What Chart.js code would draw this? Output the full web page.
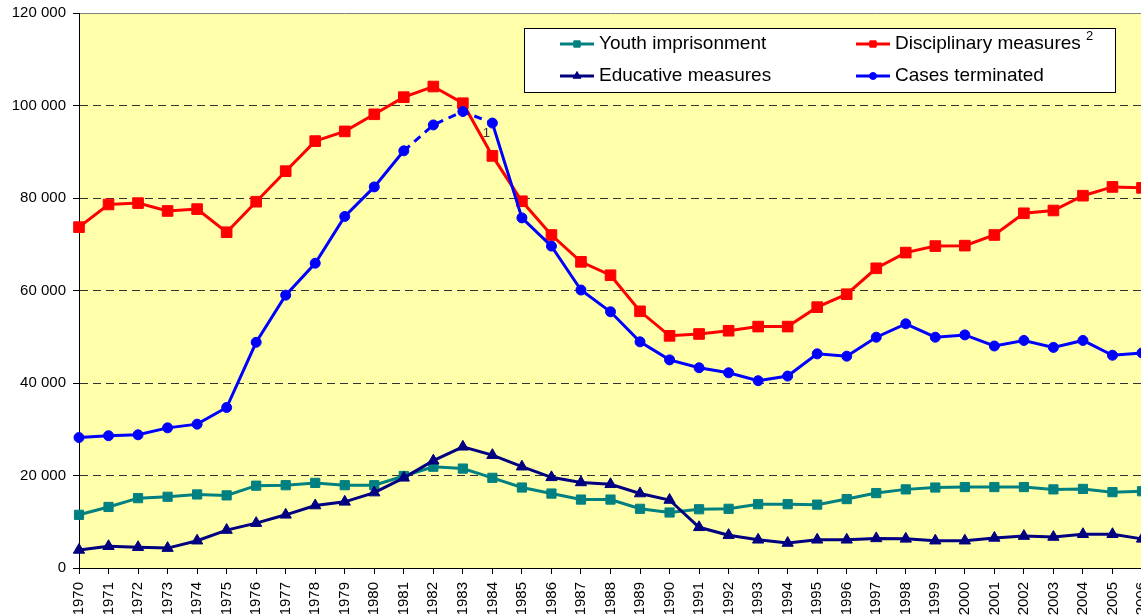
<!DOCTYPE html>
<html>
<head>
<meta charset="utf-8">
<script src="https://cdn.jsdelivr.net/npm/chart.js@4.4.1/dist/chart.umd.min.js"></script>
<style>
	html, body { margin: 0; padding: 0; background: #fff; overflow: hidden; }
	#wrap { width: 1160px; height: 615px; }
</style>
</head>
<body>
<div id="wrap"><canvas id="chart-lines" width="1160" height="615"></canvas></div>
<script>
'use strict';

// Data
var years = ['1970', '1971', '1972', '1973', '1974', '1975', '1976', '1977', '1978', '1979',
	'1980', '1981', '1982', '1983', '1984', '1985', '1986', '1987', '1988', '1989',
	'1990', '1991', '1992', '1993', '1994', '1995', '1996', '1997', '1998', '1999',
	'2000', '2001', '2002', '2003', '2004', '2005', '2006'];

var youthImprisonment = [11500, 13200, 15100, 15400, 15900, 15700, 17800, 17900, 18400, 17900,
	17900, 19900, 21900, 21500, 19500, 17400, 16100, 14800, 14800, 12800,
	12000, 12700, 12800, 13800, 13800, 13700, 14900, 16200, 17000, 17400,
	17500, 17500, 17500, 17000, 17100, 16400, 16600];

var disciplinaryMeasures = [73700, 78600, 78900, 77200, 77600, 72600, 79200, 85800, 92300, 94400,
	98100, 101800, 104100, 100500, 89100, 79300, 72000, 66200, 63300, 55500,
	50200, 50600, 51300, 52200, 52200, 56400, 59200, 64800, 68200, 69600,
	69700, 72000, 76700, 77300, 80500, 82400, 82200];

var educativeMeasures = [3900, 4700, 4500, 4300, 5900, 8200, 9700, 11500, 13500, 14300,
	16300, 19500, 23200, 26200, 24400, 21900, 19600, 18500, 18100, 16100,
	14700, 8800, 7100, 6100, 5400, 6100, 6100, 6400, 6300, 5900,
	5900, 6500, 6900, 6700, 7300, 7300, 6300];

var casesTerminated = [28200, 28600, 28800, 30300, 31100, 34700, 48800, 59000, 65900, 76000,
	82400, 90200, 95800, 98700, 96200, 75700, 69600, 60100, 55400, 48900,
	45000, 43300, 42200, 40500, 41500, 46300, 45800, 49900, 52800, 49900,
	50400, 48000, 49200, 47700, 49200, 46000, 46500];

// years whose line to the next point is dashed (series break, note 1)
var dashedFrom = ['1981', '1982', '1983'];
var noteYear = '1984';

var yTicks = [0, 20000, 40000, 60000, 80000, 100000, 120000];

var LineChart = (function () {
	var FONT = 'Arial, "Liberation Sans", sans-serif';
	var $canvas = document.getElementById('chart-lines');

	function fmt(v) {
		return String(v).replace(/\B(?=(\d{3})+(?!\d))/g, ' ');
	}

	// pale yellow plot area + grey top border
	var plotBackground = {
		id: 'plotBackground',
		beforeDraw: function (chart) {
			var a = chart.chartArea, ctx = chart.ctx;
			ctx.save();
			ctx.fillStyle = '#FFFFAA';
			ctx.fillRect(a.left, a.top, a.right - a.left, a.bottom - a.top);
			ctx.strokeStyle = '#808080';
			ctx.lineWidth = 1;
			ctx.beginPath();
			ctx.moveTo(a.left, Math.round(a.top) + 0.5);
			ctx.lineTo(a.right, Math.round(a.top) + 0.5);
			ctx.stroke();
			ctx.restore();
		}
	};

	// boxed legend inside the plot, two columns
	var boxLegend = {
		id: 'boxLegend',
		afterDraw: function (chart) {
			var ctx = chart.ctx;
			var sets = chart.data.datasets;
			var cells = [
				{ ds: 0, x: 560, y: 44 },
				{ ds: 1, x: 856, y: 44 },
				{ ds: 2, x: 560, y: 76 },
				{ ds: 3, x: 856, y: 76 }
			];
			ctx.save();
			ctx.fillStyle = '#fff';
			ctx.fillRect(524, 28, 591, 64);
			ctx.strokeStyle = '#000';
			ctx.lineWidth = 1;
			ctx.strokeRect(524.5, 28.5, 591, 64);

			cells.forEach(function (c) {
				var d = sets[c.ds];
				ctx.strokeStyle = d.borderColor;
				ctx.fillStyle = d.borderColor;
				ctx.lineWidth = 3;
				ctx.setLineDash([]);
				ctx.beginPath();
				ctx.moveTo(c.x, c.y);
				ctx.lineTo(c.x + 34, c.y);
				ctx.stroke();
				ctx.lineWidth = 1;
				Chart.helpers.drawPoint(ctx, {
					pointStyle: d.pointStyle,
					radius: d.pointStyle === 'circle' ? 3.5 : 4.5,
					rotation: 0,
					borderWidth: 1
				}, c.x + 17, c.y);
				ctx.fillStyle = '#000';
				ctx.font = '19px ' + FONT;
				ctx.textAlign = 'left';
				ctx.textBaseline = 'middle';
				ctx.fillText(d.label, c.x + 39, c.y);
			});
			// footnote mark 2
			ctx.font = '13px ' + FONT;
			ctx.fillText('2', 1086, 36);

			// footnote mark 1 next to the first point after the break
			var i = years.indexOf(noteYear);
			var px = chart.scales.x.getPixelForValue(i);
			var py = chart.scales.y.getPixelForValue(casesTerminated[i]);
			ctx.fillStyle = '#333';
			ctx.font = '13px ' + FONT;
			ctx.textAlign = 'center';
			ctx.fillText('1', px - 6, py + 10);
			ctx.restore();
		}
	};

	function init($this) {
		var lineChart = new Chart($this, {
			type: 'line',
			data: {
				labels: years,
				datasets: [{
					label: 'Youth imprisonment',
					data: youthImprisonment,
					borderColor: '#008080',
					backgroundColor: '#008080',
					pointStyle: 'rect',
					pointRadius: 6.5,
					order: 3
				}, {
					label: 'Disciplinary measures',
					data: disciplinaryMeasures,
					borderColor: '#FF0000',
					backgroundColor: '#FF0000',
					pointStyle: 'rect',
					pointRadius: 7.5,
					order: 1
				}, {
					label: 'Educative measures',
					data: educativeMeasures,
					borderColor: '#000080',
					backgroundColor: '#000080',
					pointStyle: 'triangle',
					pointRadius: 6.5,
					order: 2
				}, {
					label: 'Cases terminated',
					data: casesTerminated,
					borderColor: '#0000FF',
					backgroundColor: '#0000FF',
					pointStyle: 'circle',
					pointRadius: 5,
					order: 0,
					segment: {
						borderDash: function (ctx) {
							return dashedFrom.indexOf(years[ctx.p0DataIndex]) >= 0 ? [8, 6] : undefined;
						}
					}
				}]
			},
			options: {
				responsive: false,
				animation: false,
				layout: { padding: { top: 13, right: 18, bottom: 0, left: 0 } },
				elements: {
					line: { borderWidth: 3, tension: 0 },
					point: { borderWidth: 1, hoverRadius: 6 }
				},
				plugins: {
					legend: { display: false },
					tooltip: { enabled: false }
				},
				scales: {
					x: {
						offset: false,
						grid: { display: true, drawOnChartArea: false, drawTicks: true, tickLength: 6, color: '#000' },
						border: { display: true, color: '#000', width: 1 },
						ticks: {
							autoSkip: false, maxRotation: 90, minRotation: 90, padding: 8,
							color: '#000', font: { family: FONT, size: 15 }
						},
						afterFit: function (s) {
							s.height = 47;
							s.paddingLeft = 0;
							s.paddingRight = 0;
						}
					},
					y: {
						min: yTicks[0],
						max: yTicks[yTicks.length - 1],
						afterBuildTicks: function (s) {
							s.ticks = yTicks.map(function (v) { return { value: v }; });
						},
						ticks: {
							padding: 7, color: '#000', font: { family: FONT, size: 15 },
							callback: function (v) { return fmt(v); }
						},
						grid: {
							color: function (c) {
								var v = c.tick ? c.tick.value : null;
								return (v === yTicks[0] || v === yTicks[yTicks.length - 1]) ? 'rgba(0,0,0,0)' : '#333';
							},
							tickColor: '#000', tickLength: 6, tickBorderDash: []
						},
						border: { display: true, color: '#000', width: 1, dash: [8, 5] },
						afterFit: function (s) {
							s.width = 79;
							s.paddingTop = 0;
							s.paddingBottom = 0;
						}
					}
				}
			},
			plugins: [plotBackground, boxLegend]
		});

		$this.chart = lineChart;
	}

	if ($canvas) {
		init($canvas);
	}
})();
</script>
</body>
</html>
